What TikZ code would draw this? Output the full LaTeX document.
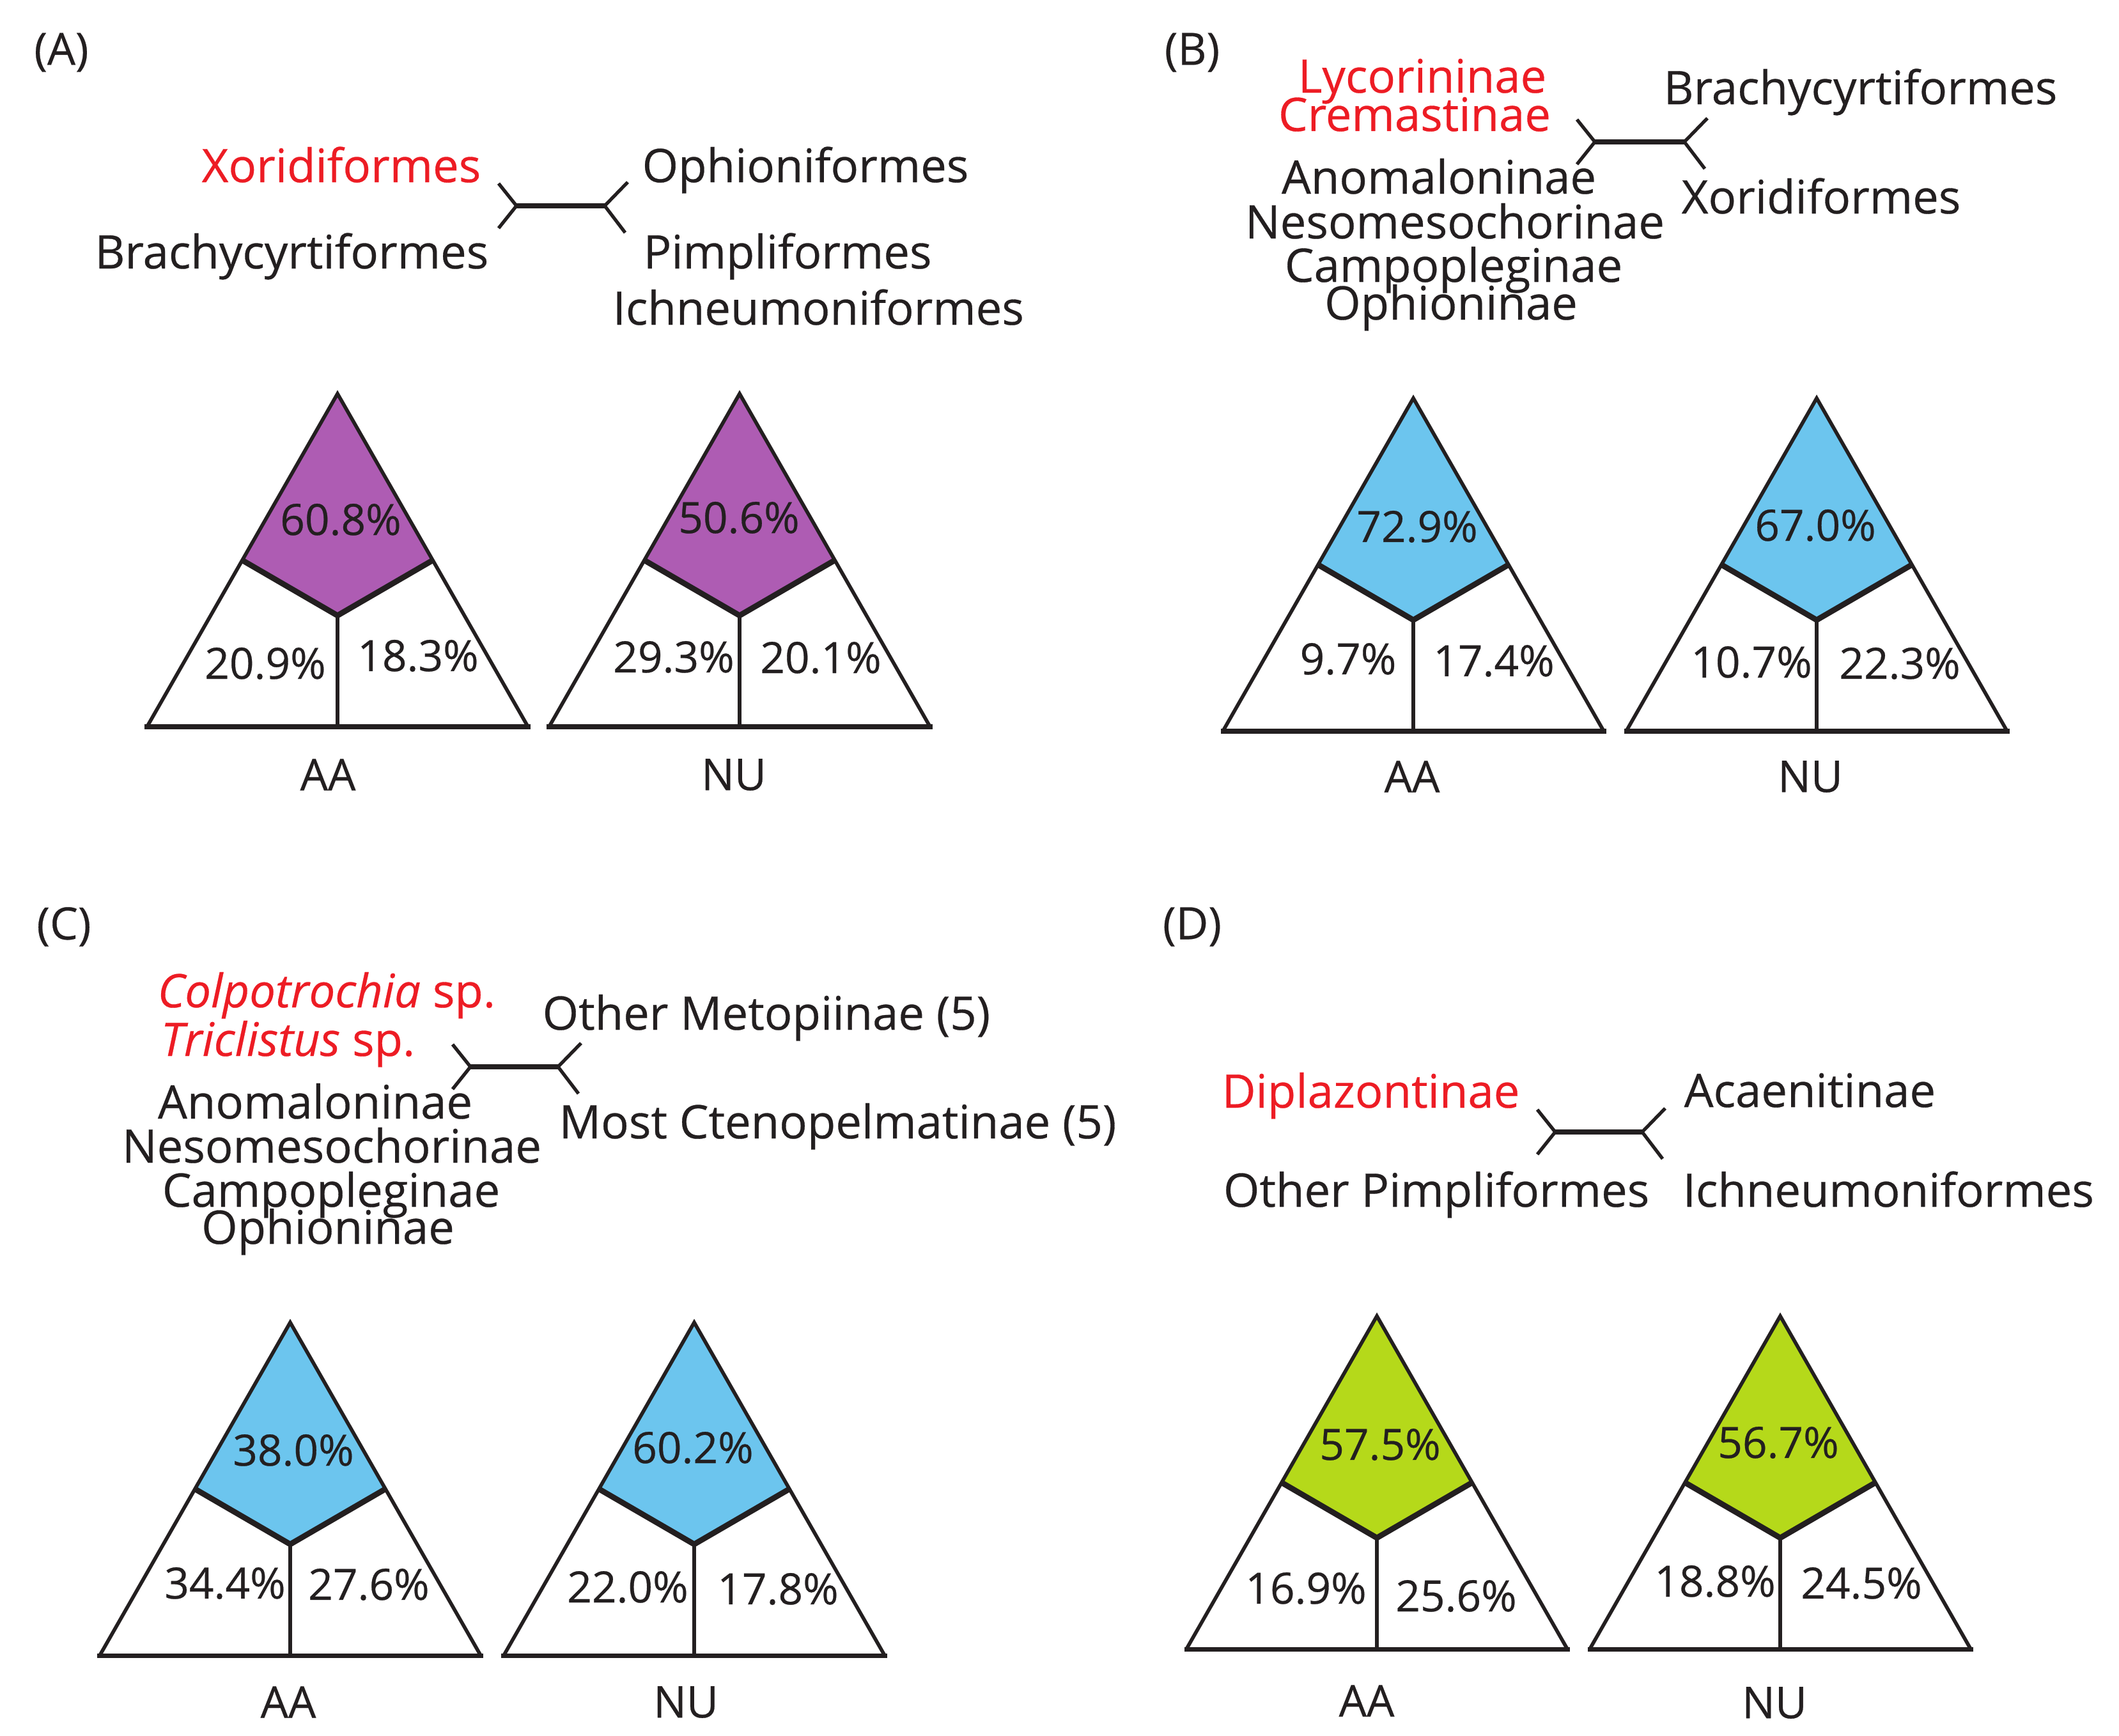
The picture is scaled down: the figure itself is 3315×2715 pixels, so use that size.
\documentclass[tikz,border=0pt]{standalone}
\usepackage{fontspec}
\setmainfont{Open Sans}[FakeBold=0.4]
\usetikzlibrary{calc}
\definecolor{redtx}{HTML}{ED1C24}
\definecolor{inkc}{HTML}{231F20}
\definecolor{purplef}{HTML}{AE5CB3}
\definecolor{bluef}{HTML}{6CC5EE}
\definecolor{greenf}{HTML}{B5D91A}
\tikzset{
  taxon/.style={inner sep=0pt, font=\fontsize{20.6}{22}\selectfont, text=inkc},
  redtaxon/.style={taxon, text=redtx},
  pct/.style={inner sep=0pt, font=\fontsize{19.2}{21}\selectfont, text=inkc},
  tlabel/.style={inner sep=0pt, font=\fontsize{19.5}{21}\selectfont, text=inkc},
  plabel/.style={inner sep=0pt, font=\fontsize{19.8}{21}\selectfont, text=inkc},
  triside/.style={draw=inkc, line width=1.6pt, line join=miter},
  tribase/.style={draw=inkc, line width=2pt, line cap=rect},
  trikite/.style={draw=inkc, line width=2.5pt, line join=miter},
  trimid/.style={draw=inkc, line width=1.5pt},
  treebar/.style={draw=inkc, line width=2.2pt},
  treearm/.style={draw=inkc, line width=1.5pt, line join=miter},
}
% ternary-like triangle: #1 name, #2 apex x, #3 apex y, #4 fill colour
\newcommand\ternplot[4]{%
  \coordinate (#1-a) at (#2,#3);
  \coordinate (#1-l) at ($(#1-a)+(-298,521)$);
  \coordinate (#1-r) at ($(#1-a)+(298,521)$);
  \coordinate (#1-c) at ($(#1-a)+(0,347)$);
  \coordinate (#1-b) at ($(#1-a)+(0,521)$);
  \coordinate (#1-ml) at ($(#1-a)!0.5!(#1-l)$);
  \coordinate (#1-mr) at ($(#1-a)!0.5!(#1-r)$);
  \fill[#4] (#1-a) -- (#1-ml) -- (#1-c) -- (#1-mr) -- cycle;
  \draw[triside] (#1-l) -- (#1-a) -- (#1-r);
  \draw[tribase] (#1-l) -- (#1-r);
  \draw[trikite] (#1-ml) -- (#1-c) -- (#1-mr);
  \draw[trimid] (#1-c) -- (#1-b);
}
% clade connector: #1 name, left fork (#2,#3), right fork (#4,#5)
\newcommand\cladetree[5]{%
  \coordinate (#1-L) at (#2,#3);
  \coordinate (#1-R) at (#4,#5);
  \draw[treebar] (#1-L) -- (#1-R);
  \draw[treearm] ($(#1-L)+(-28,-35)$) -- (#1-L) -- ($(#1-L)+(-28,35)$);
  \draw[treearm] ($(#1-R)+(36,-37)$) -- (#1-R) -- ($(#1-R)+(32,42)$);
}
\begin{document}
\begin{tikzpicture}[x=0.01cm, y=-0.01cm]
\useasboundingbox (0,0) rectangle (3315,2715);

% ---------------- Panel A ----------------
\node[plabel] (labA) at (96,82) {(A)};
\node[redtaxon, anchor=base east] (aX) at (753,285) {Xoridiformes};
\node[taxon, anchor=base east] (aB) at (765,420) {Brachycyrtiformes};
\node[taxon, anchor=base west] (aO) at (1004,285) {Ophioniformes};
\node[taxon, anchor=base west] (aP) at (1006,420) {Pimpliformes};
\node[taxon, anchor=base west] (aI) at (958,508) {Ichneumoniformes};
\cladetree{trA}{808}{322}{946}{322}

\ternplot{aAA}{528}{616}{purplef}
\node[pct] (aAA1) at (533,813) {60.8\%};
\node[pct] (aAA2) at (415,1038) {20.9\%};
\node[pct] (aAA3) at (654,1026) {18.3\%};
\node[tlabel] (aAAl) at (513,1212) {AA};

\ternplot{aNU}{1157}{616}{purplef}
\node[pct] (aNU1) at (1156,810) {50.6\%};
\node[pct] (aNU2) at (1054,1028) {29.3\%};
\node[pct] (aNU3) at (1284,1029) {20.1\%};
\node[tlabel] (aNUl) at (1148,1212) {NU};

% ---------------- Panel B ----------------
\node[plabel] (labB) at (1865,82) {(B)};
\node[redtaxon, anchor=base] (bL) at (2225,145) {Lycorininae};
\node[redtaxon, anchor=base] (bC) at (2213,205) {Cremastinae};
\node[taxon, anchor=base] (bA) at (2251,303) {Anomaloninae};
\node[taxon, anchor=base] (bN) at (2276,373) {Nesomesochorinae};
\node[taxon, anchor=base] (bCa) at (2274,441) {Campopleginae};
\node[taxon, anchor=base] (bO) at (2270,500) {Ophioninae};
\node[taxon, anchor=base west] (bB) at (2602,163) {Brachycyrtiformes};
\node[taxon, anchor=base west] (bX) at (2630,334) {Xoridiformes};
\cladetree{trB}{2495}{222}{2635}{222}

\ternplot{bAA}{2211}{623}{bluef}
\node[pct] (bAA1) at (2217,824) {72.9\%};
\node[pct] (bAA2) at (2109,1031) {9.7\%};
\node[pct] (bAA3) at (2337,1034) {17.4\%};
\node[tlabel] (bAAl) at (2209,1215) {AA};

\ternplot{bNU}{2842}{623}{bluef}
\node[pct] (bNU1) at (2840,822) {67.0\%};
\node[pct] (bNU2) at (2740,1036) {10.7\%};
\node[pct] (bNU3) at (2972,1038) {22.3\%};
\node[tlabel] (bNUl) at (2832,1215) {NU};

% ---------------- Panel C ----------------
\node[plabel] (labC) at (100,1450) {(C)};
\node[redtaxon, anchor=base west] (cCo) at (246,1576) {\textit{Colpotrochia} sp.};
\node[redtaxon, anchor=base west] (cTr) at (251,1652) {\textit{Triclistus} sp.};
\node[taxon, anchor=base west] (cOM) at (848,1611) {Other Metopiinae (5)};
\node[taxon, anchor=base west] (cMC) at (874,1781) {Most Ctenopelmatinae (5)};
\node[taxon, anchor=base] (cA) at (493,1750) {Anomaloninae};
\node[taxon, anchor=base] (cN) at (519,1819) {Nesomesochorinae};
\node[taxon, anchor=base] (cCa) at (518,1888) {Campopleginae};
\node[taxon, anchor=base] (cO) at (513,1946) {Ophioninae};
\cladetree{trC}{736}{1669}{873}{1669}

\ternplot{cAA}{454}{2069}{bluef}
\node[pct] (cAA1) at (459,2269) {38.0\%};
\node[pct] (cAA2) at (352,2477) {34.4\%};
\node[pct] (cAA3) at (577,2479) {27.6\%};
\node[tlabel] (cAAl) at (451,2663) {AA};

\ternplot{cNU}{1086}{2069}{bluef}
\node[pct] (cNU1) at (1084,2265) {60.2\%};
\node[pct] (cNU2) at (982,2483) {22.0\%};
\node[pct] (cNU3) at (1217,2486) {17.8\%};
\node[tlabel] (cNUl) at (1073,2663) {NU};

% ---------------- Panel D ----------------
\node[plabel] (labD) at (1865,1450) {(D)};
\node[redtaxon, anchor=base east] (dD) at (2378,1733) {Diplazontinae};
\node[taxon, anchor=base east] (dOP) at (2581,1888) {Other Pimpliformes};
\node[taxon, anchor=base west] (dA) at (2634,1732) {Acaenitinae};
\node[taxon, anchor=base west] (dI) at (2632,1888) {Ichneumoniformes};
\cladetree{trD}{2433}{1771}{2569}{1771}

\ternplot{dAA}{2154}{2059}{greenf}
\node[pct] (dAA1) at (2159,2260) {57.5\%};
\node[pct] (dAA2) at (2043,2485) {16.9\%};
\node[pct] (dAA3) at (2278,2497) {25.6\%};
\node[tlabel] (dAAl) at (2138,2661) {AA};

\ternplot{dNU}{2785}{2059}{greenf}
\node[pct] (dNU1) at (2782,2257) {56.7\%};
\node[pct] (dNU2) at (2683,2474) {18.8\%};
\node[pct] (dNU3) at (2912,2477) {24.5\%};
\node[tlabel] (dNUl) at (2776,2664) {NU};
\end{tikzpicture}
\end{document}
